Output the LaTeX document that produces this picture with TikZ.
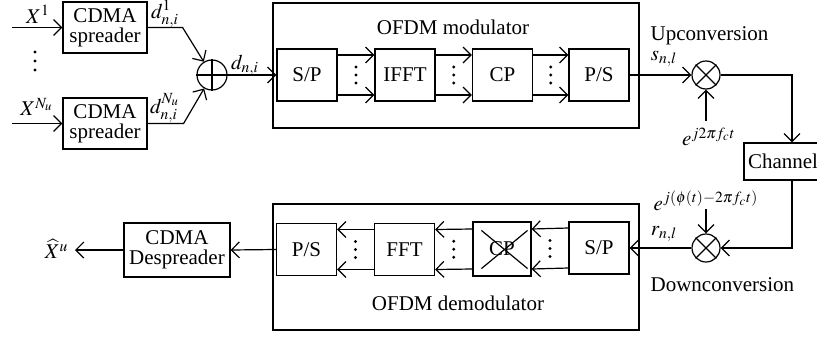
\documentclass[tikz,border=0pt]{standalone}
\usepackage{mathptmx}
\usepackage{fontspec}
\setmainfont{Liberation Serif}
\usetikzlibrary{arrows.meta,calc}
\begin{document}
\begin{tikzpicture}[x=0.5pt,y=-0.5pt,line width=0.6pt,
  font=\fontsize{10.5}{12}\selectfont,
  box/.style={draw,inner sep=0pt,align=center},
  blk/.style={box,minimum width=30pt,minimum height=26pt},
  bigbox/.style={draw,inner sep=0pt,minimum width=183pt,minimum height=62.5pt},
  mixer/.style={draw,circle,inner sep=0pt,minimum size=14pt},
  arr/.style={-{Straight Barb[length=4pt,width=8pt]}},
  lab/.style={inner sep=1pt},
  dotmark/.style={fill,circle,inner sep=0pt,minimum size=1.6pt}]
\useasboundingbox (0,0) rectangle (817,337);

% ---------- transmitter ----------
\node[box,minimum width=42pt,minimum height=25.5pt] (sp1) at (105,27.5) {CDMA\\[-2pt]spreader};
\node[box,minimum width=42pt,minimum height=25.5pt] (sp2) at (105,123.5) {CDMA\\[-2pt]spreader};
\coordinate (in1) at (12,27.5);
\coordinate (in2) at (12,123.5);
\node[lab] at (38,14) {$X^1$};
\node[lab] at (37,107) {$X^{N_u}$};
\node[dotmark] at (35,52) {};
\node[dotmark] at (35,61) {};
\node[dotmark] at (35,70) {};
\draw[arr] (in1) -- (sp1.west);
\draw[arr] (in2) -- (sp2.west);

\node[draw,circle,inner sep=0pt,minimum size=15pt] (plus) at (212,75) {};
\draw (plus.north) -- (plus.south) (plus.west) -- (plus.east);
\node[lab] at (165,14) {$d^{1}_{n,i}$};
\node[lab] at (165,108) {$d^{N_u}_{n,i}$};
\draw[arr] (sp1.east) -- ++(35,0) -- (plus);
\draw[arr] (sp2.east) -- ++(36,0) -- (plus);

\node[bigbox] (mod) at (456,65.5) {};
\node at (453,27) {OFDM modulator};
\node[blk] (sp) at (307,75) {S/P};
\node[blk] (ifft) at (405,75) {IFFT};
\node[blk] (cp) at (502.5,75) {CP};
\node[blk] (ps) at (599,75) {P/S};
\node[lab] at (245,65) {$d_{n,i}$};
\draw[arr] (plus.east) -- (sp.west);
\foreach \a/\b in {sp/ifft,ifft/cp,cp/ps}{
  \draw[arr] ([yshift=10pt]\a.east) -- ([yshift=10pt]\b.west);
  \draw[arr] ([yshift=-10pt]\a.east) -- ([yshift=-10pt]\b.west);
  \node[dotmark] at ($(\a.east)!0.5!(\b.west)+(0,-8)$) {};
  \node[dotmark] at ($(\a.east)!0.5!(\b.west)$) {};
  \node[dotmark] at ($(\a.east)!0.5!(\b.west)+(0,8)$) {};
}

\node[mixer] (m1) at (706,75) {};
\draw (m1.north west) -- (m1.south east) (m1.north east) -- (m1.south west);
\node[anchor=west,lab] at (648,36) {Upconversion};
\node[lab] at (664,59) {$s_{n,l}$};
\draw[arr] (ps.east) -- (m1.west);
\coordinate (e1) at (706,121);
\node[lab] at (709,137) {$e^{j2\pi f_c t}$};
\draw[arr] (e1) -- (m1.south);

% ---------- channel ----------
\node[draw,inner sep=0pt,minimum width=39pt,minimum height=18.5pt] (ch) at (783,161.5) {Channel};
\draw[arr] (m1.east) -| ([xshift=4.5pt]ch.north);

% ---------- receiver ----------
\node[mixer] (m2) at (706,248) {};
\draw (m2.north west) -- (m2.south east) (m2.north east) -- (m2.south west);
\draw[arr] ([xshift=4.5pt]ch.south) |- (m2.east);
\node[lab] at (706,201) {$e^{j(\phi(t)-2\pi f_c t)}$};
\coordinate (e2) at (706,209);
\draw[arr] (e2) -- (m2.north);
\node[lab] at (664,234) {$r_{n,l}$};
\node[anchor=west,lab] at (648,285) {Downconversion};

\node[bigbox,minimum height=63pt] (demod) at (456,267) {};
\node at (458,303) {OFDM demodulator};
\node[blk] (spr) at (599,248) {S/P};
\node[blk,minimum width=29pt,minimum height=27pt] (cpx) at (502,249) {CP};
\draw ([xshift=4.5pt,yshift=-4.5pt]cpx.north west) -- ([xshift=-2pt,yshift=4pt]cpx.south east)
      ([xshift=-2pt,yshift=-4.5pt]cpx.north east) -- ([xshift=4.5pt,yshift=4pt]cpx.south west);
\node[blk] (fft) at (404.5,249.5) {FFT};
\node[blk] (psr) at (306.5,249.5) {P/S};
\draw[arr] (m2.west) -- (spr.east);
\foreach \a/\b in {spr/cpx,cpx/fft,fft/psr}{
  \draw[arr] ([yshift=10pt]\a.west) -- ([yshift=10pt]\b.east);
  \draw[arr] ([yshift=-10pt]\a.west) -- ([yshift=-10pt]\b.east);
  \node[dotmark] at ($(\a.west)!0.5!(\b.east)+(0,-8)$) {};
  \node[dotmark] at ($(\a.west)!0.5!(\b.east)$) {};
  \node[dotmark] at ($(\a.west)!0.5!(\b.east)+(0,8)$) {};
}

\node[box,minimum width=53pt,minimum height=27pt] (desp) at (177,250) {CDMA\\[-2pt]Despreader};
\draw[arr] (psr.west) -- (desp.east);
\coordinate (out) at (75,250);
\draw[arr] (desp.west) -- (out);
\node[lab,anchor=east] at (71,249) {$\widehat{X}^u$};
\end{tikzpicture}
\end{document}
